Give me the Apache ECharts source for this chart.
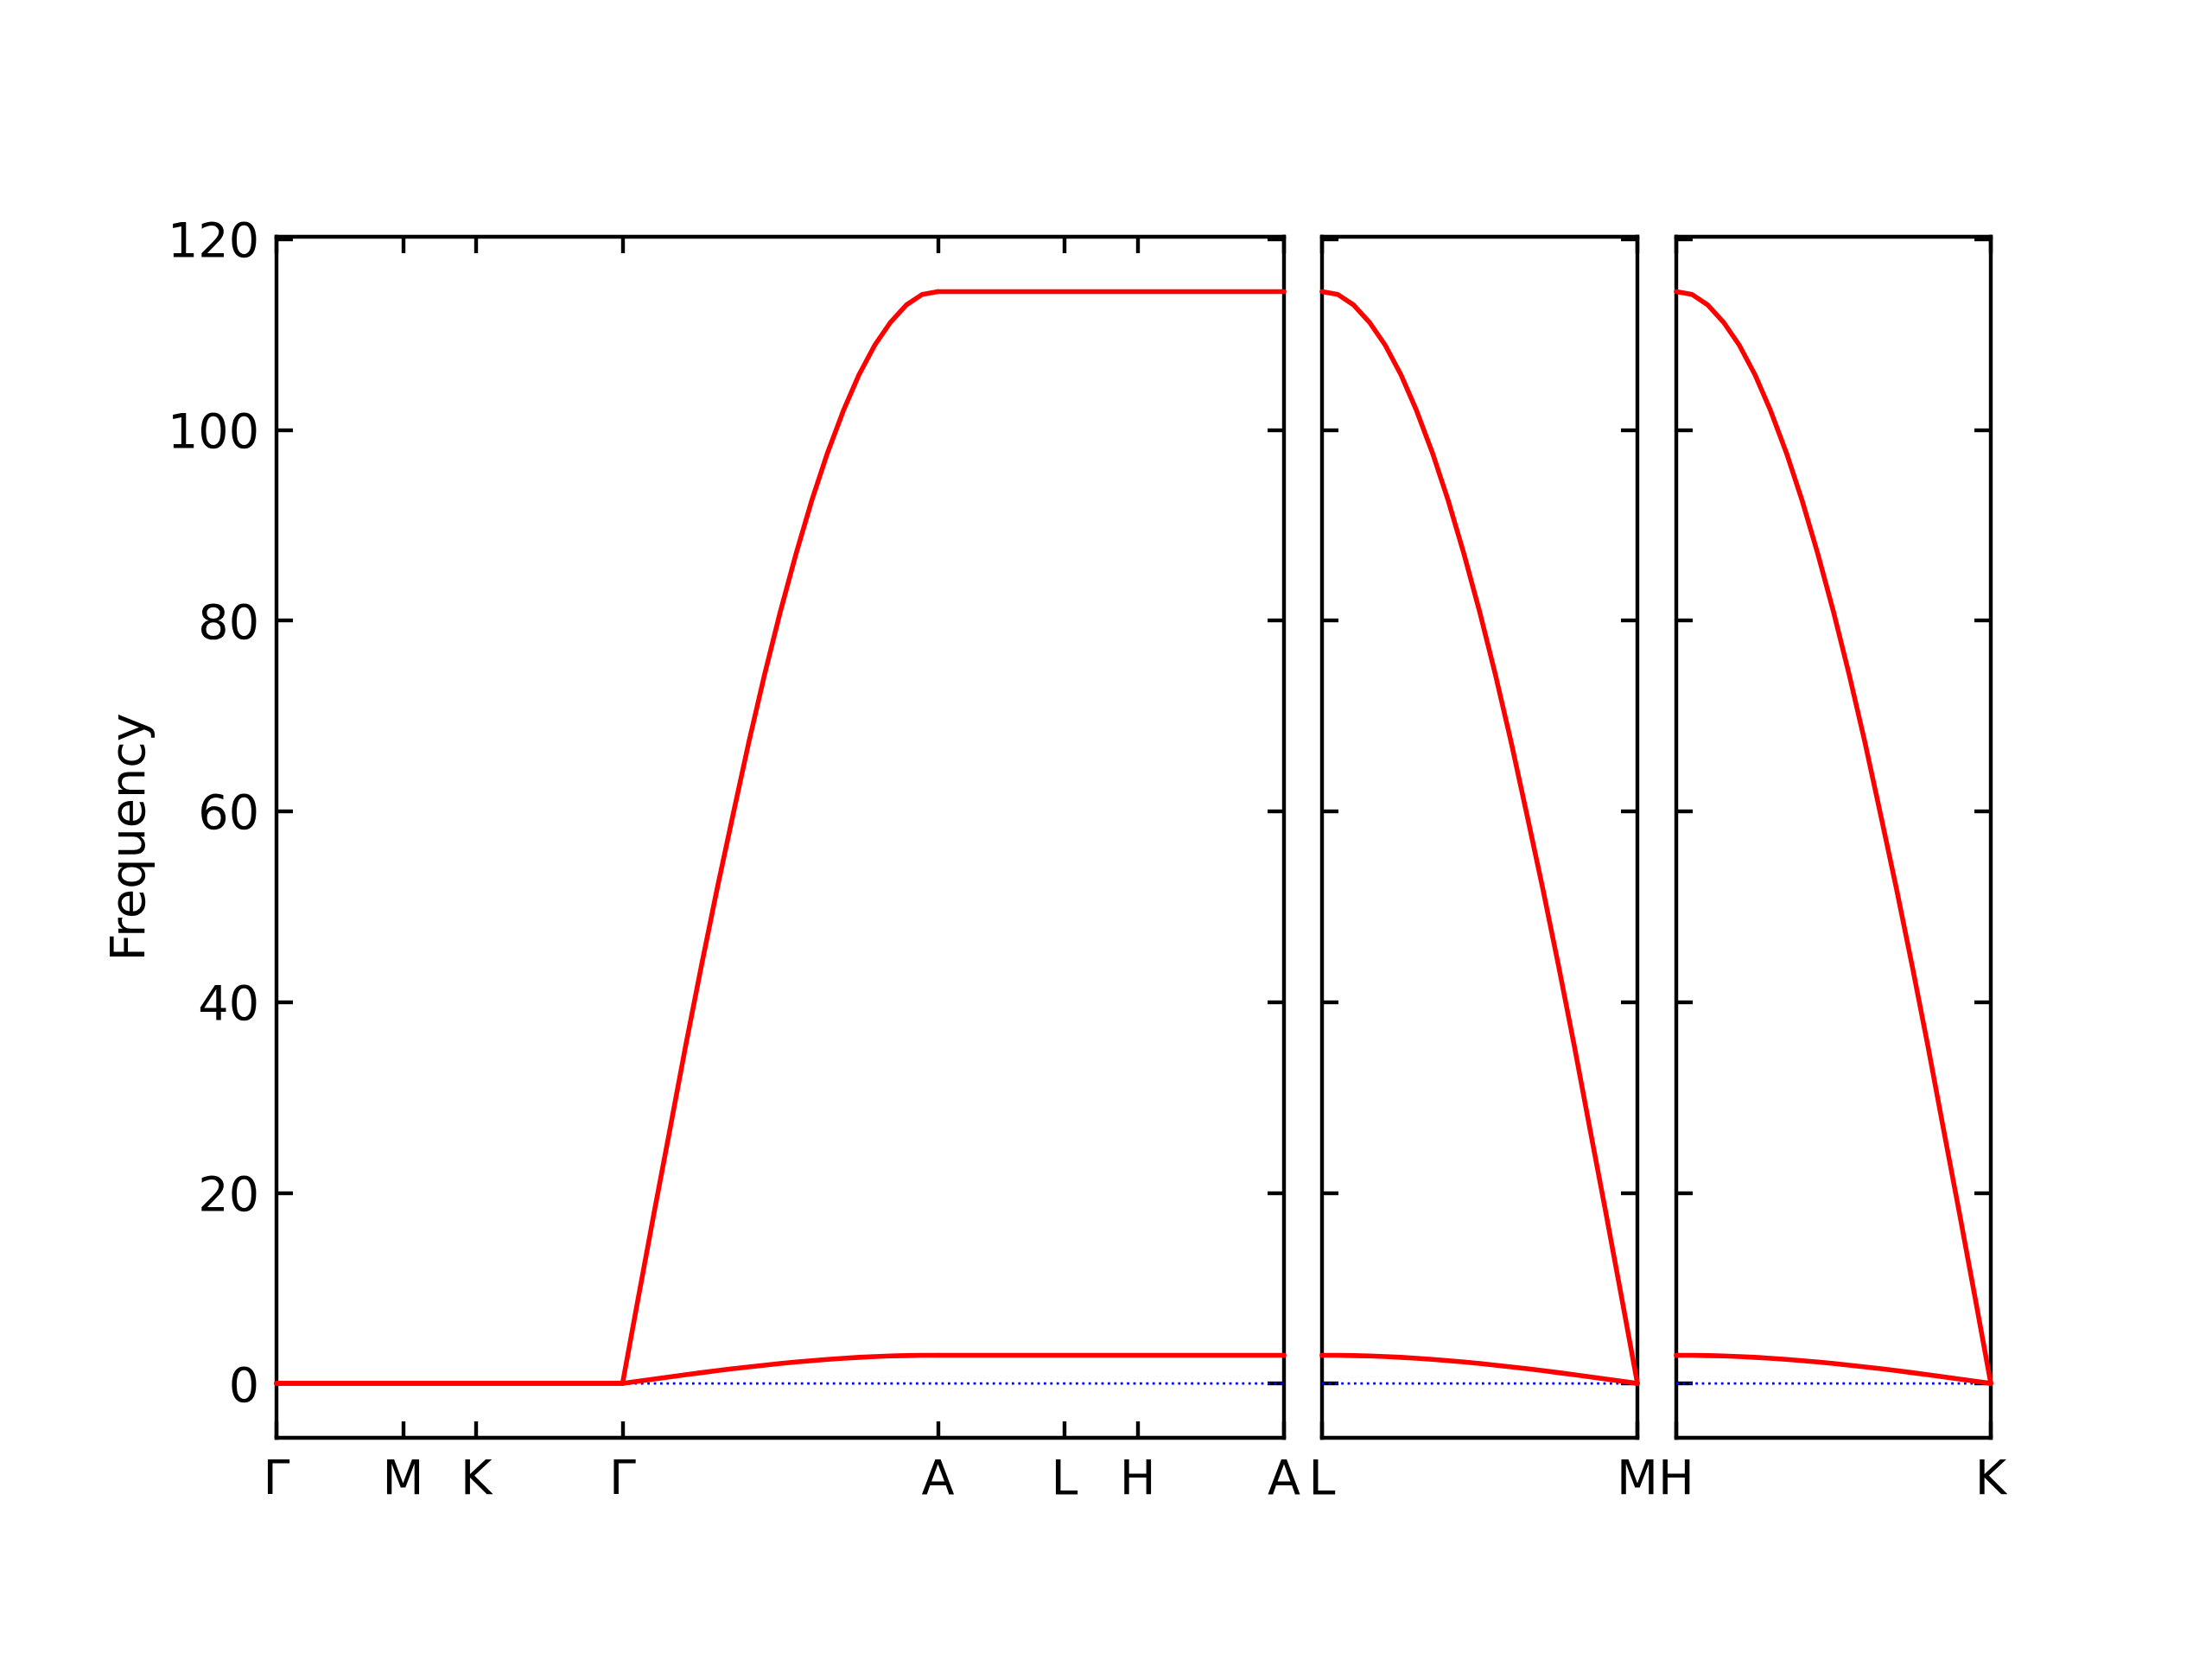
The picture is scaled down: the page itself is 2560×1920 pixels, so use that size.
<!DOCTYPE html>
<html>
<head>
<meta charset="utf-8">
<style>
  html, body { margin: 0; padding: 0; background: #ffffff; }
  #chart { width: 2560px; height: 1920px; }
</style>
<script src="https://cdn.jsdelivr.net/npm/echarts@6/dist/echarts.min.js"></script>
</head>
<body>
<div id="chart"></div>
<script>
// ---- Tick positions (path distance) and labels ----
const pathTickPos = [0, 1, 1.5774, 2.7321, 5.2221, 6.2221, 6.7995, 7.9542];
const pathTickLabels = ['Γ', 'M', 'K', 'Γ', 'A', 'L', 'H', 'A'];
const lmTickPos = [0, 2.49];
const lmTickLabels = ['L', 'M'];
const hkTickPos = [0, 2.49];
const hkTickLabels = ['H', 'K'];
const freqTicks = [0, 20, 40, 60, 80, 100, 120];
const freqMin = -5.7;
const freqMax = 120.25;

// ---- Panel 1: Γ-M-K-Γ (flat) ----
const xGMKG = [0, 1, 1.5774, 2.7321];
const upperGMKG = [0, 0, 0, 0];
const lowerGMKG = [0, 0, 0, 0];

// ---- Panel 1: Γ-A ----
const xGA = [2.7321, 2.8566, 2.9811, 3.1056, 3.2301, 3.3546, 3.4791, 3.6036, 3.7281, 3.8526, 3.9771,
             4.1016, 4.2261, 4.3506, 4.4751, 4.5996, 4.7241, 4.8486, 4.9731, 5.0976, 5.2221];
const upperGA = [0, 9.0, 17.9, 26.6, 35.4, 43.8, 51.9, 59.6, 67.2, 74.3, 80.9,
                 87.0, 92.6, 97.6, 102.0, 105.8, 108.9, 111.3, 113.1, 114.2, 114.5];
const lowerGA = [0, 0.23, 0.46, 0.69, 0.92, 1.13, 1.34, 1.54, 1.74, 1.92, 2.09,
                 2.25, 2.39, 2.52, 2.64, 2.74, 2.82, 2.88, 2.92, 2.95, 2.96];

// ---- Panel 1: A-L-H-A (flat) ----
const xALHA = [5.2221, 6.2221, 6.7995, 7.9542];
const upperALHA = [114.5, 114.5, 114.5, 114.5];
const lowerALHA = [2.96, 2.96, 2.96, 2.96];

// ---- Panel 2: L-M ----
const xLM = [0, 0.1245, 0.249, 0.3735, 0.498, 0.6225, 0.747, 0.8715, 0.996, 1.1205, 1.245,
             1.3695, 1.494, 1.6185, 1.743, 1.8675, 1.992, 2.1165, 2.241, 2.3655, 2.49];
const upperLM = [114.5, 114.2, 113.1, 111.3, 108.9, 105.8, 102.0, 97.6, 92.6, 87.0, 80.9,
                 74.3, 67.2, 59.6, 51.9, 43.8, 35.4, 26.6, 17.9, 9.0, 0];
const lowerLM = [2.96, 2.95, 2.92, 2.88, 2.82, 2.74, 2.64, 2.52, 2.39, 2.25, 2.09,
                 1.92, 1.74, 1.54, 1.34, 1.13, 0.92, 0.69, 0.46, 0.23, 0];

// ---- Panel 3: H-K ----
const xHK = [0, 0.1245, 0.249, 0.3735, 0.498, 0.6225, 0.747, 0.8715, 0.996, 1.1205, 1.245,
             1.3695, 1.494, 1.6185, 1.743, 1.8675, 1.992, 2.1165, 2.241, 2.3655, 2.49];
const upperHK = [114.5, 114.2, 113.1, 111.3, 108.9, 105.8, 102.0, 97.6, 92.6, 87.0, 80.9,
                 74.3, 67.2, 59.6, 51.9, 43.8, 35.4, 26.6, 17.9, 9.0, 0];
const lowerHK = [2.96, 2.95, 2.92, 2.88, 2.82, 2.74, 2.64, 2.52, 2.39, 2.25, 2.09,
                 1.92, 1.74, 1.54, 1.34, 1.13, 0.92, 0.69, 0.46, 0.23, 0];

// ---- Zero reference line ----
const zeroLine = [0, 0];

// ---- Build chart ----
const FONT = 'DejaVu Sans';
const FS = 55.6;
const LW = 4.4;
const TICKLEN = 19;

function pair(xs, ys) { return xs.map((x, i) => [x, ys[i]]); }
function labelFor(ticks, labels) {
  return function (v) {
    for (let i = 0; i < ticks.length; i++) {
      if (Math.abs(ticks[i] - v) < 1e-6) return labels[i];
    }
    return '';
  };
}

const grids = [
  { left: 320, top: 274, width: 1166, height: 1390 },
  { left: 1530, top: 274, width: 365, height: 1390 },
  { left: 1940, top: 274, width: 364, height: 1390 }
];
const panelTicks = [pathTickPos, lmTickPos, hkTickPos];
const panelLabels = [pathTickLabels, lmTickLabels, hkTickLabels];
const panelMax = [pathTickPos[pathTickPos.length - 1], lmTickPos[1], hkTickPos[1]];

const xAxes = [];
const yAxes = [];
const lineStyleAxis = { color: '#000000', width: LW, cap: 'square' };
const tickStyle = { color: '#000000', width: LW };

for (let g = 0; g < 3; g++) {
  xAxes.push({
    type: 'value', gridIndex: g, position: 'bottom', min: 0, max: panelMax[g],
    axisLine: { show: true, onZero: false, lineStyle: lineStyleAxis },
    axisTick: { show: true, inside: true, length: TICKLEN, lineStyle: tickStyle, customValues: panelTicks[g] },
    axisLabel: {
      show: true, customValues: panelTicks[g], formatter: labelFor(panelTicks[g], panelLabels[g]),
      fontFamily: FONT, fontSize: FS, color: '#000000', margin: 23, hideOverlap: false
    },
    splitLine: { show: false }
  });
  xAxes.push({
    type: 'value', gridIndex: g, position: 'top', min: 0, max: panelMax[g],
    axisLine: { show: true, onZero: false, lineStyle: lineStyleAxis },
    axisTick: { show: true, inside: true, length: TICKLEN, lineStyle: tickStyle, customValues: panelTicks[g] },
    axisLabel: { show: false },
    splitLine: { show: false }
  });
  const yLeft = {
    type: 'value', gridIndex: g, position: 'left', min: freqMin, max: freqMax,
    axisLine: { show: true, onZero: false, lineStyle: lineStyleAxis },
    axisTick: { show: true, inside: true, length: TICKLEN, lineStyle: tickStyle, customValues: freqTicks },
    axisLabel: {
      show: g === 0, customValues: freqTicks, fontFamily: FONT, fontSize: FS, color: '#000000',
      margin: 20, verticalAlign: 'top', lineHeight: 12
    },
    splitLine: { show: false }
  };
  if (g === 0) {
    yLeft.name = 'Frequency';
    yLeft.nameLocation = 'middle';
    yLeft.nameGap = 139;
    yLeft.nameTextStyle = { fontFamily: FONT, fontSize: FS, color: '#000000' };
  }
  yAxes.push(yLeft);
  yAxes.push({
    type: 'value', gridIndex: g, position: 'right', min: freqMin, max: freqMax,
    axisLine: { show: true, onZero: false, lineStyle: lineStyleAxis },
    axisTick: { show: true, inside: true, length: TICKLEN, lineStyle: tickStyle, customValues: freqTicks },
    axisLabel: { show: false },
    splitLine: { show: false }
  });
}

const RED = '#ff0000';
const BLUE = '#0000ff';
const bandLW = 5.56;

function redSeries(g, xs, ys) {
  return {
    type: 'line', xAxisIndex: g * 2, yAxisIndex: g * 2, data: pair(xs, ys),
    showSymbol: false, symbol: 'none', smooth: false,
    lineStyle: { color: RED, width: bandLW, cap: 'round', join: 'round' },
    z: 5, silent: true, animation: false
  };
}
function zeroSeries(g) {
  return {
    type: 'line', xAxisIndex: g * 2, yAxisIndex: g * 2,
    data: [[0, zeroLine[0]], [panelMax[g], zeroLine[1]]],
    showSymbol: false, symbol: 'none',
    lineStyle: { color: BLUE, width: 2.8, type: [2.8, 4.6], cap: 'butt' },
    z: 2, silent: true, animation: false
  };
}

const series = [
  zeroSeries(0), zeroSeries(1), zeroSeries(2),
  redSeries(0, xGMKG, upperGMKG),
  redSeries(0, xGMKG, lowerGMKG),
  redSeries(0, xGA, upperGA),
  redSeries(0, xGA, lowerGA),
  redSeries(0, xALHA, upperALHA),
  redSeries(0, xALHA, lowerALHA),
  redSeries(1, xLM, upperLM),
  redSeries(1, xLM, lowerLM),
  redSeries(2, xHK, upperHK),
  redSeries(2, xHK, lowerHK)
];

const chart = echarts.init(document.getElementById('chart'), null, { renderer: 'canvas', width: 2560, height: 1920 });
chart.setOption({
  backgroundColor: '#ffffff',
  animation: false,
  grid: grids,
  xAxis: xAxes,
  yAxis: yAxes,
  series: series
});
</script>
</body>
</html>
